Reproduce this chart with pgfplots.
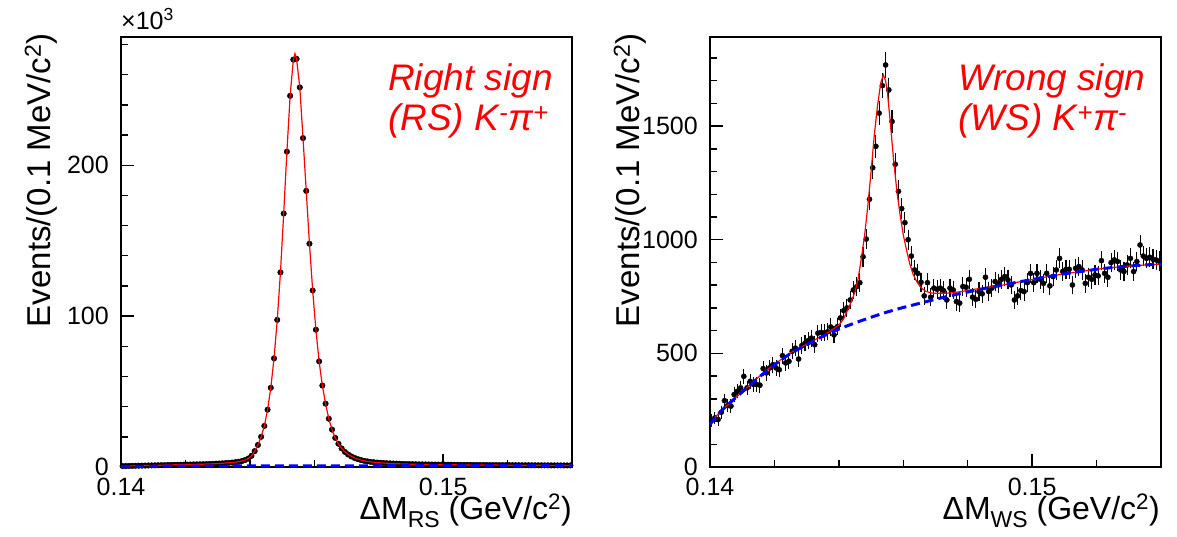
\documentclass[border=0pt]{standalone}
\usepackage{fontspec}
\setmainfont{Liberation Sans}
\usepackage{pgfplots}
\pgfplotsset{compat=1.18}
\usepackage{pgfplotstable}

% RS data (values in units of 10^3 events)
\pgfplotstableread{
x y
0.14005 0.6
0.14015 0.65
0.14025 0.7
0.14035 0.75
0.14045 0.8
0.14055 0.85
0.14065 0.9
0.14075 0.95
0.14085 1.0
0.14095 1.05
0.14105 1.1
0.14115 1.15
0.14125 1.2
0.14135 1.25
0.14145 1.3
0.14155 1.35
0.14165 1.4
0.14175 1.45
0.14185 1.5
0.14195 1.55
0.14205 1.6
0.14215 1.65
0.14225 1.7
0.14235 1.75
0.14245 1.8
0.14255 1.85
0.14265 1.9
0.14275 2.0
0.14285 2.1
0.14295 2.2
0.14305 2.3
0.14315 2.45
0.14325 2.6
0.14335 2.75
0.14345 2.95
0.14355 3.2
0.14365 3.5
0.14375 3.9
0.14385 4.6
0.14395 5.6
0.14405 7.4
0.14415 10.5
0.14425 14.6
0.14435 20.0
0.14445 27.2
0.14455 38.0
0.14465 52.5
0.14475 72.0
0.14485 97.5
0.14495 129
0.14505 168
0.14515 209
0.14525 246
0.14535 270
0.14545 270.5
0.14555 251.6
0.14565 218
0.14575 183
0.14585 148
0.14595 117
0.14605 91
0.14615 70
0.14625 54
0.14635 42
0.14645 32
0.14655 24.8
0.14665 19.3
0.14675 15.4
0.14685 12.3
0.14695 10.0
0.14705 8.3
0.14715 7.0
0.14725 6.0
0.14735 5.2
0.14745 4.6
0.14755 4.1
0.14765 3.7
0.14775 3.4
0.14785 3.15
0.14795 2.95
0.14805 2.8
0.14815 2.65
0.14825 2.5
0.14835 2.4
0.14845 2.3
0.14855 2.2
0.14865 2.12
0.14875 2.05
0.14885 1.98
0.14895 1.92
0.14905 1.87
0.14915 1.82
0.14925 1.78
0.14935 1.74
0.14945 1.7
0.14955 1.67
0.14965 1.64
0.14975 1.61
0.14985 1.58
0.14995 1.55
0.15005 1.53
0.15015 1.51
0.15025 1.49
0.15035 1.47
0.15045 1.45
0.15055 1.43
0.15065 1.41
0.15075 1.39
0.15085 1.37
0.15095 1.36
0.15105 1.35
0.15115 1.33
0.15125 1.32
0.15135 1.3
0.15145 1.29
0.15155 1.28
0.15165 1.26
0.15175 1.25
0.15185 1.24
0.15195 1.23
0.15205 1.22
0.15215 1.21
0.15225 1.2
0.15235 1.19
0.15245 1.18
0.15255 1.17
0.15265 1.16
0.15275 1.15
0.15285 1.14
0.15295 1.13
0.15305 1.12
0.15315 1.11
0.15325 1.1
0.15335 1.09
0.15345 1.08
0.15355 1.07
0.15365 1.06
0.15375 1.05
0.15385 1.04
0.15395 1.03
}\rsdata

\pgfplotstableread{
x y
0.1400 0.55
0.1410 1.1
0.1420 1.6
0.1425 1.82
0.1430 2.25
0.1435 3.05
0.1437 3.7
0.1439 5.0
0.14405 7.4
0.14415 10.5
0.14425 14.6
0.14435 20.0
0.14445 27.2
0.14455 38.0
0.14465 52.5
0.14475 72.0
0.14485 97.5
0.14495 129
0.14505 168
0.14515 209
0.14525 246
0.14535 270
0.1454 274
0.14545 270.5
0.14555 251.6
0.14565 218
0.14575 183
0.14585 148
0.14595 117
0.14605 91
0.14615 70
0.14625 54
0.14635 42
0.14645 32
0.14655 24.8
0.14665 19.3
0.14675 15.4
0.14685 12.3
0.14695 10.0
0.14705 8.3
0.14725 6.0
0.14745 4.6
0.14765 3.7
0.14785 3.15
0.1481 2.7
0.1485 2.2
0.1490 1.85
0.1495 1.62
0.1500 1.5
0.1510 1.35
0.1520 1.22
0.1530 1.12
0.1540 1.03
}\rsfit

\pgfplotstableread{
x y
0.1400 0.0
0.1402 0.25
0.1405 0.4
0.1410 0.5
0.1420 0.6
0.1440 0.7
0.1460 0.78
0.1500 0.88
0.1540 0.95
}\rsbkg

% WS data
\pgfplotstableread{
x y e
0.14005 205 14.3
0.14015 216 14.7
0.14025 209 14.5
0.14035 241 15.5
0.14045 292 17.1
0.14055 270 16.4
0.14065 268 16.4
0.14075 319 17.9
0.14085 333 18.2
0.14095 348 18.7
0.14105 399 20.0
0.14115 348 18.7
0.14125 377 19.4
0.14135 363 19.1
0.14145 363 19.1
0.14155 360 19.0
0.14165 433 20.8
0.14175 414 20.3
0.14185 436 20.9
0.14195 450 21.2
0.14205 436 20.9
0.14215 428 20.7
0.14225 490 22.1
0.14235 458 21.4
0.14245 465 21.6
0.14255 509 22.6
0.14265 523 22.9
0.14275 475 21.8
0.14285 534 23.1
0.14295 545 23.3
0.14305 556 23.6
0.14315 567 23.8
0.14325 538 23.2
0.14335 589 24.3
0.14345 592 24.3
0.14355 590 24.3
0.14365 595 24.4
0.14375 616 24.8
0.14385 581 24.1
0.14395 617 24.8
0.14405 656 25.6
0.14415 688 26.2
0.14425 700 26.5
0.14435 735 27.1
0.14445 779 27.9
0.14455 793 28.2
0.14465 811 28.5
0.14475 925 30.4
0.14485 1003 31.7
0.14495 1178 34.3
0.14505 1317 36.3
0.14515 1411 37.6
0.14525 1557 39.5
0.14535 1678 41.0
0.14545 1769 42.1
0.14555 1659 40.7
0.14565 1520 39.0
0.14575 1332 36.5
0.14585 1213 34.8
0.14595 1137 33.7
0.14605 1075 32.8
0.14615 1000 31.6
0.14625 928 30.5
0.14635 867 29.4
0.14645 852 29.2
0.14655 813 28.5
0.14665 753 27.4
0.14675 811 28.5
0.14685 747 27.3
0.14695 787 28.0
0.14705 782 28.0
0.14715 787 28.0
0.14725 776 27.9
0.14735 735 27.1
0.14745 787 28.0
0.14755 779 27.9
0.14765 728 27.0
0.14775 721 26.9
0.14785 794 28.2
0.14795 791 28.1
0.14805 826 28.7
0.14815 747 27.3
0.14825 738 27.2
0.14835 772 27.8
0.14845 762 27.6
0.14855 835 28.9
0.14865 772 27.8
0.14875 787 28.0
0.14885 816 28.6
0.14895 808 28.4
0.14905 826 28.7
0.14915 838 28.9
0.14925 823 28.7
0.14935 801 28.3
0.14945 735 27.1
0.14955 753 27.4
0.14965 776 27.9
0.14975 772 27.8
0.14985 811 28.5
0.14995 852 29.2
0.15005 811 28.5
0.15015 852 29.2
0.15025 826 28.7
0.15035 808 28.4
0.15045 852 29.2
0.15055 797 28.2
0.15065 838 28.9
0.15075 867 29.4
0.15085 918 30.3
0.15095 860 29.3
0.15105 870 29.5
0.15115 870 29.5
0.15125 801 28.3
0.15135 874 29.6
0.15145 882 29.7
0.15155 867 29.4
0.15165 808 28.4
0.15175 835 28.9
0.15185 826 28.7
0.15195 845 29.1
0.15205 841 29.0
0.15215 908 30.1
0.15225 852 29.2
0.15235 835 28.9
0.15245 899 30.0
0.15255 911 30.2
0.15265 904 30.1
0.15275 867 29.4
0.15285 860 29.3
0.15295 889 29.8
0.15305 918 30.3
0.15315 860 29.3
0.15325 904 30.1
0.15335 977 31.3
0.15345 928 30.5
0.15355 918 30.3
0.15365 923 30.4
0.15375 914 30.2
0.15385 911 30.2
0.15395 905 30.1
}\wsdata

\pgfplotstableread{
x y
0.1400 187
0.1402 225
0.1405 268
0.1410 331
0.1415 395
0.1420 452
0.1425 503
0.1430 540
0.1435 578
0.14373 598
0.1440 625
0.14414 650
0.14435 715
0.1445 770
0.1446 830
0.1447 920
0.1448 1020
0.1449 1150
0.1450 1300
0.1451 1460
0.1452 1590
0.1453 1690
0.14538 1725
0.14545 1700
0.1455 1660
0.1456 1510
0.1457 1350
0.1458 1215
0.1459 1110
0.1460 1021
0.1461 955
0.1462 895
0.1463 850
0.1464 820
0.1465 798
0.1466 783
0.1467 773
0.1469 765
0.1472 764
0.1475 766
0.1478 772
0.1481 780
0.1485 788
0.1490 798
0.1495 812
0.1500 825
0.1505 838
0.1510 850
0.1515 860
0.1520 870
0.1525 878
0.1530 884
0.1535 889
0.1540 893
}\wsfit

\pgfplotstableread{
x y
0.1400 187
0.1402 225
0.1405 268
0.1410 330
0.1415 393
0.1420 450
0.1425 500
0.1430 538
0.1435 575
0.1440 607
0.1445 634
0.1450 659
0.1455 682
0.1460 702
0.1465 720
0.1470 738
0.1475 755
0.1480 770
0.1485 785
0.1490 798
0.1495 812
0.1500 825
0.1505 838
0.1510 850
0.1515 860
0.1520 870
0.1525 878
0.1530 884
0.1535 889
0.1540 893
}\wsbkg

\pgfplotsset{
  hep/.style={
    scale only axis, width=451pt, height=430pt,
    anchor=south west,
    xmin=0.14, xmax=0.154,
    tick align=inside, tick pos=left,
    major tick length=13pt, minor tick length=7pt,
    xtick={0.14,0.15}, xticklabels={0.14,0.15},
    minor xtick={0.142,0.144,0.146,0.148,0.152},
    axis line style={line width=1.4pt},
    every tick/.style={black, line width=1.4pt},
    tick label style={font=\fontsize{25}{30}\selectfont},
    xticklabel style={anchor=north, inner sep=0pt, yshift=-11pt},
    yticklabel style={anchor=east, inner sep=0pt, xshift=-12pt},
    clip=false, clip marker paths=true,
  },
  datapts/.style={only marks, mark=*, mark size=2.8pt, black},
  fitline/.style={red, line width=1.2pt, mark=none},
  bkgline/.style={blue, line width=3pt, dash pattern=on 9pt off 5pt, mark=none},
}

\begin{document}
\begin{tikzpicture}[x=1pt,y=1pt]
\path[use as bounding box] (0,0) rectangle (1177,536);

% ---------------- RS ----------------
\begin{axis}[hep, at={(121pt,69pt)},
  ymin=0, ymax=285,
  ytick={0,100,200}, yticklabels={0,100,200},
  minor ytick={20,40,60,80,120,140,160,180,220,240,260,280}]
\addplot[datapts] table[x=x,y=y] {\rsdata};
\addplot[fitline] table[x=x,y=y] {\rsfit};
\addplot[bkgline] table[x=x,y=y] {\rsbkg};
\end{axis}

% ---------------- WS ----------------
\begin{axis}[hep, at={(710pt,69pt)},
  ymin=0, ymax=1892,
  ytick={0,500,1000,1500}, yticklabels={0,500,1000,1500},
  minor ytick={100,200,300,400,600,700,800,900,1100,1200,1300,1400,1600,1700,1800}]
\addplot[datapts, mark size=2.6pt,
  error bars/.cd, y dir=both, y explicit,
  error bar style={line width=1.1pt, black},
  error mark options={line width=1.1pt, mark size=3pt, black}]
  table[x=x,y=y,y error=e] {\wsdata};
\addplot[fitline] table[x=x,y=y] {\wsfit};
\addplot[bkgline] table[x=x,y=y] {\wsbkg};
\end{axis}

% labels
\node[anchor=base west, font=\fontsize{25}{30}\selectfont, inner sep=0pt] at (121pt,506pt) {×10\textsuperscript{3}};

\node[rotate=90, anchor=base east, inner sep=0pt, font=\fontsize{33}{40}\selectfont] at (50pt,503pt) {Events/(0.1 MeV/c\textsuperscript{2})};
\node[rotate=90, anchor=base east, inner sep=0pt, font=\fontsize{33}{40}\selectfont] at (639pt,503pt) {Events/(0.1 MeV/c\textsuperscript{2})};

\node[anchor=base east, inner sep=0pt, font=\fontsize{32}{38}\selectfont] at (572pt,17pt) {ΔM\raisebox{-0.28em}{\fontsize{23}{26}\selectfont RS} (GeV/c\textsuperscript{2})};
\node[anchor=base east, inner sep=0pt, font=\fontsize{32}{38}\selectfont] at (1160pt,17pt) {ΔM\raisebox{-0.28em}{\fontsize{23}{26}\selectfont WS} (GeV/c\textsuperscript{2})};

\node[anchor=base west, inner sep=0pt, red, font=\fontsize{37}{44}\selectfont\itshape] at (388pt,445pt) {Right sign};
\node[anchor=base west, inner sep=0pt, red, font=\fontsize{37}{44}\selectfont\itshape] at (388pt,405pt) {(RS) K\textsuperscript{-}π\textsuperscript{+}};
\node[anchor=base west, inner sep=0pt, red, font=\fontsize{37}{44}\selectfont\itshape] at (958pt,445pt) {Wrong sign};
\node[anchor=base west, inner sep=0pt, red, font=\fontsize{37}{44}\selectfont\itshape] at (958pt,405pt) {(WS) K\textsuperscript{+}π\textsuperscript{-}};
\end{tikzpicture}
\end{document}
